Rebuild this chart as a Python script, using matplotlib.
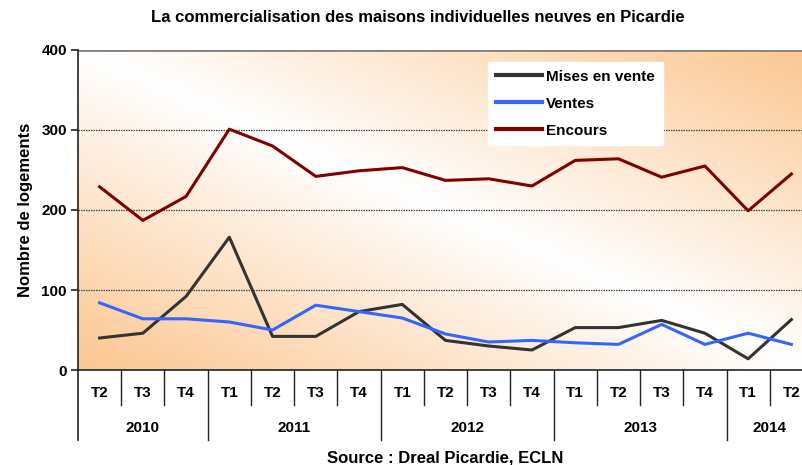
#!/usr/bin/env python3
"""
Commercialisation des maisons individuelles neuves en Picardie
"""

import numpy as np
import matplotlib.pyplot as plt
from matplotlib.colors import LinearSegmentedColormap
import matplotlib.transforms as mtransforms

plt.rcParams['font.family'] = ['Liberation Sans', 'DejaVu Sans']
plt.rcParams['font.weight'] = 'bold'

# Data
quarters = ['T2', 'T3', 'T4',
            'T1', 'T2', 'T3', 'T4',
            'T1', 'T2', 'T3', 'T4',
            'T1', 'T2', 'T3', 'T4',
            'T1', 'T2']
years = ['2010', '2011', '2012', '2013', '2014']
quarters_per_year = [3, 4, 4, 4, 2]

mises_en_vente = [40, 46, 92, 166, 42, 42, 73, 82, 37, 30, 25, 53, 53, 62, 46, 14, 63]
ventes = [84, 64, 64, 60, 50, 81, 73, 65, 45, 35, 37, 34, 32, 57, 32, 46, 32]
encours = [229, 187, 217, 301, 280, 242, 249, 253, 237, 239, 230, 262, 264, 241, 255, 199, 245]

yticks = [0, 100, 200, 300, 400]

fig = plt.figure(figsize=(8.02, 4.65), dpi=100)
fig.patch.set_facecolor('white')

# plot area: x 78 -> 813 px (clipped by figure edge), y 50 -> 370 px
ax = fig.add_axes([78 / 802, 1 - 370 / 465, 735 / 802, 320 / 465])
n = len(quarters)

# diagonal gradient background: orange corners bottom-left / top-right
xs = np.linspace(0, 1, 300)
ys = np.linspace(0, 1, 150)
X, Y = np.meshgrid(xs, ys)
t = np.abs((X + Y) / 2 - 0.5) * 2
cmap = LinearSegmentedColormap.from_list('bg', ['#ffffff', '#fcc690'])
ax.imshow(t, cmap=cmap, vmin=0, vmax=1, origin='lower', aspect='auto',
          extent=[0, 1, 0, 1], transform=ax.transAxes, zorder=0,
          interpolation='bilinear')
ax.set_xlim(-0.5, n - 0.5)
ax.set_ylim(0, 400)

# gridlines
for v in yticks[1:-1]:
    ax.axhline(v, color='#444444', linewidth=0.9, linestyle=(0, (1.2, 0.8)), zorder=1)
ax.axhline(400, color='#808080', linewidth=2, zorder=1)

x = np.arange(n)
ax.plot(x, mises_en_vente, color='#333333', linewidth=2.2, label='Mises en vente', zorder=3)
ax.plot(x, ventes, color='#3366ff', linewidth=2.2, label='Ventes', zorder=3)
ax.plot(x, encours, color='#800000', linewidth=2.2, label='Encours', zorder=3)

# spines / ticks
for side in ['top', 'right']:
    ax.spines[side].set_visible(False)
ax.spines['left'].set_color('#222222')
ax.spines['left'].set_linewidth(1.2)
ax.spines['bottom'].set_color('#222222')
ax.spines['bottom'].set_linewidth(1.2)
ax.set_yticks(yticks)
ax.set_yticklabels([str(v) for v in yticks], fontsize=11, fontweight='bold')
ax.tick_params(axis='y', length=5, width=1.2, color='#222222', pad=3)
ax.set_xticks([])

# two level category axis
trans = mtransforms.blended_transform_factory(ax.transData, ax.transAxes)
y_short = -35 / 320
y_long = -70 / 320
for i, q in enumerate(quarters):
    ax.text(i, -23 / 320, q, transform=trans, ha='center', va='center',
            fontsize=11, fontweight='bold')

start = 0
ax.plot([-0.5, -0.5], [0, y_long], transform=trans, color='#222222',
        linewidth=1.2, clip_on=False)
for yr, cnt in zip(years, quarters_per_year):
    for k in range(1, cnt):
        b = start + k - 0.5
        ax.plot([b, b], [0, y_short], transform=trans, color='#222222',
                linewidth=1.0, clip_on=False)
    end = start + cnt
    ax.plot([end - 0.5, end - 0.5], [0, y_long], transform=trans,
            color='#222222', linewidth=1.0, clip_on=False)
    ax.text(start + cnt / 2 - 0.5, -58 / 320, yr, transform=trans,
            ha='center', va='center', fontsize=11, fontweight='bold')
    start = end

ax.set_ylabel('Nombre de logements', fontsize=12, fontweight='bold', labelpad=6)

leg = ax.legend(loc='upper left', bbox_to_anchor=(0.558, 0.9625),
                borderaxespad=0, frameon=True, fancybox=False, framealpha=1,
                handlelength=3.0, handletextpad=0.3, labelspacing=0.85,
                borderpad=0.5, prop={'size': 11, 'weight': 'bold'})
leg.get_frame().set_facecolor('white')
leg.get_frame().set_edgecolor('white')
for line in leg.get_lines():
    line.set_linewidth(3)

fig.text(418 / 802, 1 - 18 / 465, 'La commercialisation des maisons individuelles neuves en Picardie',
         ha='center', va='center', fontsize=12, fontweight='bold')
fig.text(445 / 802, 1 - 458 / 465, 'Source : Dreal Picardie, ECLN',
         ha='center', va='center', fontsize=12, fontweight='bold')

fig.savefig('out.png', dpi=100)
